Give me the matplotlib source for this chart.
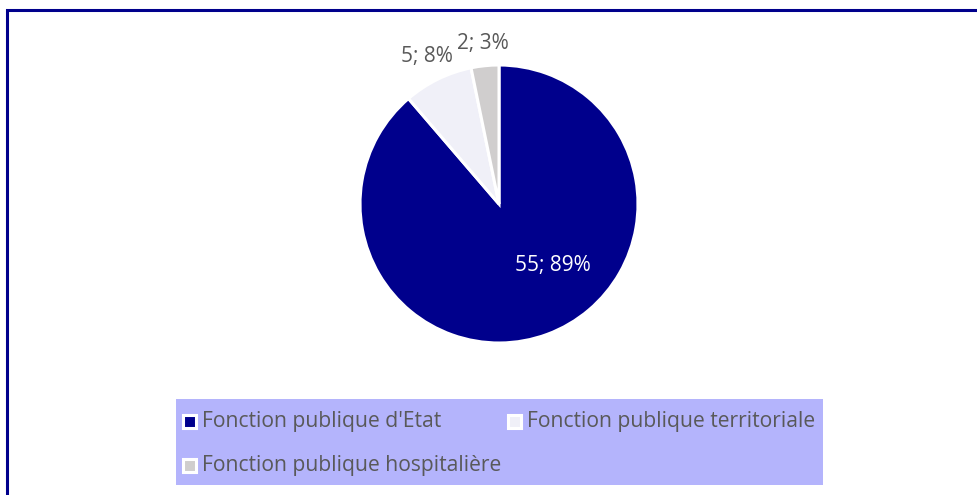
import matplotlib.pyplot as plt
import numpy as np
from matplotlib.patches import Rectangle

categories = ["Fonction publique d'Etat", "Fonction publique territoriale", "Fonction publique hospitalière"]
values = [55, 5, 2]
colors = ['#00008C', '#F0F0F8', '#D0CECE']

plt.rcParams['font.family'] = ['Open Sans', 'DejaVu Sans']

W, H = 978, 495
fig = plt.figure(figsize=(W / 100, H / 100), dpi=100)

# frame around the chart (left and top visible)
fig.patches.append(Rectangle((7 / W, -0.1), 1.2, 1 - 9.5 / H + 0.1, transform=fig.transFigure,
                             fill=False, edgecolor='#00008C', linewidth=2.2))

cx, cy, r = 499, 204, 139
ax = fig.add_axes([(cx - r) / W, 1 - (cy + r) / H, 2 * r / W, 2 * r / H])
wedges, _ = ax.pie(values, colors=colors, startangle=90, counterclock=False,
                   wedgeprops=dict(edgecolor='white', linewidth=2.2))
ax.set_xlim(-1, 1)
ax.set_ylim(-1, 1)
ax.axis('off')

total = sum(values)
labels = ['%d; %d%%' % (v, round(100 * v / total)) for v in values]

# big slice label inside
ax.text(0.39, -0.44, labels[0], color='white', fontsize=15, ha='center', va='center')
# small slices, outside
for w, lab, dist in zip(wedges[1:], labels[1:], [1.18, 1.16]):
    ang = np.deg2rad((w.theta1 + w.theta2) / 2)
    ax.text(dist * np.cos(ang), dist * np.sin(ang), lab, color='#595959', fontsize=15,
            ha='center', va='center', clip_on=False)

# legend
lx0, ly0, lx1, ly1 = 176, 399, 823, 485
fig.patches.append(Rectangle((lx0 / W, 1 - ly1 / H), (lx1 - lx0) / W, (ly1 - ly0) / H,
                             transform=fig.transFigure, facecolor='#B4B4FC', edgecolor='none'))
pos = [(183, 421), (508, 421), (183, 465)]
for (px, py), lab, col in zip(pos, categories, colors):
    fig.patches.append(Rectangle((px / W, 1 - (py + 6.5) / H), 13 / W, 13 / H,
                                 transform=fig.transFigure, facecolor=col,
                                 edgecolor='white', linewidth=2.2))
    fig.text((px + 19) / W, 1 - py / H, lab, color='#595959', fontsize=15.2, va='center', ha='left')

fig.savefig('out.png', dpi=100, facecolor='white')
